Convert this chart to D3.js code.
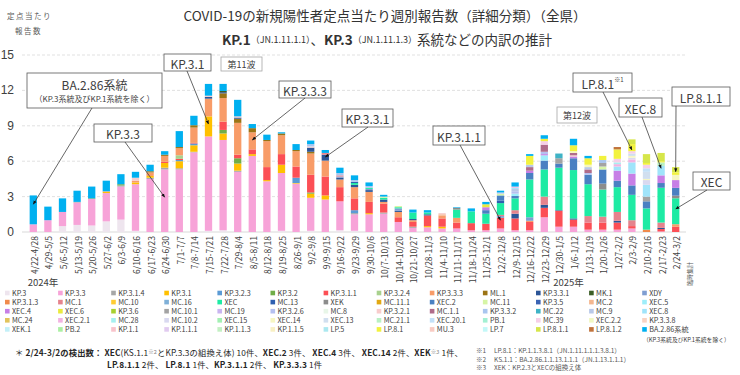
<!DOCTYPE html>
<html>
<head>
<meta charset="utf-8">
<script src="https://cdn.jsdelivr.net/npm/d3@7"></script>
<style>
  body { margin: 0; background: #fff; }
  svg { display: block; font-family: "Noto Sans CJK JP", "Noto Sans", sans-serif; }
</style>
</head>
<body>
<div id="chart"></div>
<script>
// 1. Data

const weeks = ["4/22-4/28","4/29-5/5","5/6-5/12","5/13-5/19","5/20-5/26","5/27-6/2","6/3-6/9","6/10-6/16","6/17-6/23","6/24-6/30","7/1-7/7","7/8-7/14","7/15-7/21","7/22-7/28","7/29-8/4","8/5-8/11","8/12-8/18","8/19-8/25","8/26-9/1","9/2-9/8","9/9-9/15","9/16-9/22","9/23-9/29","9/30-10/6","10/7-10/13","10/14-10/20","10/21-10/27","10/28-11/3","11/4-11/10","11/11-11/17","11/18-11/24","11/25-12/1","12/2-12/8","12/9-12/15","12/16-12/22","12/23-12/29","12/30-1/5","1/6-1/12","1/13-1/19","1/20-1/26","1/27-2/2","2/3-2/9","2/10-2/16","2/17-2/23","2/24-3/2"]

const seriesNames = [
  "KP.3","KP.3.3","KP.3.1.4","KP.3.1","KP.3.2.3","KP.3.2","KP.3.1.1","KP.3.2.4","KP.3.3.3","ML.1","KP.3.3.1","MK.1","XDY",
  "KP.3.1.3","MC.1","MC.10","MC.16","XEC","MC.13","XEK","MC.11.1","XEC.2","MC.11","KP.3.5","MC.2","XEC.5",
  "XEC.4","XEC.6","KP.3.6","MC.10.1","MC.19","KP.3.2.6","MC.8","KP.3.2.1","MC.1.1","KP.3.3.2","MC.22","MC.9","XEC.8",
  "MC.24","XEC.2.1","MC.28","MC.10.2","XEC.15","XEC.14","XEC.13","MC.21.1","XEC.20.1","PB.1","MC.39","XEC.2.2","KP.3.3.8",
  "XEK.1","PB.2","KP.1.1","KP.1.1.1","KP.1.1.3","KP.1.1.5","LP.5","LP.8.1","MU.3","LP.7","LP.8.1.1","LP.8.1.2","BA.2.86系統"
]

const seriesColors = [
  "#eee5ee","#f7a3d8","#a6a6a6","#ffc000","#5b9bd5","#70ad47","#fc4f55","#a9d18e","#f89c68","#9c7415","#2c5597","#3b5e26","#7f9ed2",
  "#f08a4b","#e5838d","#ffcc33","#7fb0d8","#1eeba4","#2e5fb0","#8c8c8c","#e2a812","#4a80c2","#d6f5a6","#3b63b3","#f4b78f","#9eeefa",
  "#c77fe6","#eaea3e","#a8d030","#a3a3a3","#c9b5f0","#b5c0f0","#e8f6e8","#f8cccc","#b06c8a","#a9c6ef","#3fb3c6","#b9c9e8","#a0e4fa",
  "#e2c45c","#f2b3e2","#a6f0f0","#d9d9f0","#a3f0b3","#f6f6c2","#d1dfef","#b9f0c3","#c3e1f8","#a3f0d3","#f6cfe8","#f1f8c3","#f8d3c3",
  "#c3f0f8","#abf0a3","#f8c3cb","#e1cbf0","#c3f0c3","#f8f0c3","#abe8f0","#f2f23e","#f8cbc3","#c3f8f8","#d6e64a","#c0733c","#00b0f0"
]

const weeklyCounts = [
  {"KP.3.3":0.65,"BA.2.86系統":2.45},
  {"KP.3.3":1.0,"BA.2.86系統":1.15},
  {"KP.3":0.5,"KP.3.3":1.2,"BA.2.86系統":1.15},
  {"KP.3":0.6,"KP.3.3":1.9,"KP.3.1.4":0.05,"BA.2.86系統":0.95},
  {"KP.3":0.55,"KP.3.3":2.25,"KP.3.2":0.05,"BA.2.86系統":1.0},
  {"KP.3":0.9,"KP.3.3":2.4,"KP.3.1":0.1,"KP.3.3.3":0.05,"BA.2.86系統":0.9},
  {"KP.3":1.05,"KP.3.3":2.8,"KP.3.1.4":0.1,"KP.3.2":0.1,"BA.2.86系統":0.85},
  {"KP.3":0.1,"KP.3.3":3.95,"KP.3.1":0.15,"KP.3.3.3":0.15,"KP.3.2.1":0.25,"BA.2.86系統":0.5},
  {"KP.3.3":4.5,"KP.3.1.4":0.1,"KP.3.1":0.15,"KP.3.3.3":0.3,"ML.1":0.1,"BA.2.86系統":0.55},
  {"KP.3.3":5.3,"KP.3.1.4":0.15,"KP.3.1":0.4,"KP.3.1.1":0.1,"KP.3.3.3":0.5,"ML.1":0.1,"BA.2.86系統":0.3},
  {"KP.3.3":5.3,"KP.3.1.4":0.1,"KP.3.1":0.6,"KP.3.2.3":0.1,"KP.3.1.1":0.1,"KP.3.2.4":0.3,"KP.3.3.3":0.6,"ML.1":0.1,"BA.2.86系統":1.35},
  {"KP.3.3":6.75,"KP.3.1.4":0.05,"KP.3.1":0.55,"KP.3.2.3":0.15,"KP.3.1.1":0.05,"KP.3.3.3":1.3,"ML.1":0.2,"BA.2.86系統":0.8},
  {"KP.3":0.1,"KP.3.3":8.0,"KP.3.1":1.7,"KP.3.3.3":1.5,"KP.3.3.1":0.15,"KP.3.2.1":0.1,"BA.2.86系統":1.0},
  {"KP.3":0.15,"KP.3.3":7.65,"KP.3.1":0.55,"KP.3.2":0.3,"KP.3.1.1":0.7,"KP.3.3.3":2.0,"ML.1":0.4,"KP.3.3.1":0.1,"MK.1":0.1,"BA.2.86系統":0.6},
  {"KP.3.3":5.1,"KP.3.1.4":0.1,"KP.3.1":0.6,"KP.3.2":0.45,"KP.3.1.1":0.3,"KP.3.3.3":2.7,"ML.1":0.35,"KP.3.3.1":0.1,"KP.3.2.1":0.1,"BA.2.86系統":1.4},
  {"KP.3.3":6.45,"KP.3.1":0.15,"KP.3.1.1":0.4,"KP.3.3.3":1.45,"ML.1":0.35,"BA.2.86系統":0.35},
  {"KP.3.3":4.3,"KP.3.1":0.1,"KP.3.1.1":1.1,"KP.3.3.3":2.2,"ML.1":0.1,"BA.2.86系統":0.45},
  {"KP.3":0.1,"KP.3.3":4.9,"KP.3.1":0.7,"KP.3.1.1":0.9,"KP.3.3.3":1.6,"ML.1":0.15,"BA.2.86系統":0.1},
  {"KP.3.3":4.1,"KP.3.1":0.05,"KP.3.2.3":0.45,"KP.3.1.1":0.95,"KP.3.3.3":1.3,"ML.1":0.1,"BA.2.86系統":0.5},
  {"KP.3":0.1,"KP.3.3":2.8,"KP.3.1":0.35,"KP.3.2":0.1,"KP.3.1.1":1.5,"KP.3.3.3":1.8,"ML.1":0.15,"KP.3.3.1":0.35,"KP.3.2.1":0.1,"KP.3.3.2":0.2,"BA.2.86系統":0.3},
  {"KP.3.3":2.75,"KP.3.1":0.35,"KP.3.1.1":1.6,"KP.3.3.3":1.35,"KP.3.3.1":0.5,"MC.1":0.15,"BA.2.86系統":0.25},
  {"KP.3":0.15,"KP.3.3":2.45,"KP.3.1.1":1.2,"KP.3.3.3":0.65,"KP.3.3.1":0.15,"XDY":0.1,"MC.1":0.1,"KP.3.3.2":0.2,"BA.2.86系統":0.45},
  {"KP.3":0.1,"KP.3.3":1.4,"KP.3.1.4":0.1,"KP.3.2.3":0.25,"KP.3.1.1":1.0,"KP.3.3.3":0.95,"KP.3.3.1":0.2,"XEC":0.15,"MC.13":0.1,"KP.3.3.2":0.15,"BA.2.86系統":0.4},
  {"KP.3.3":1.5,"KP.3.1":0.1,"KP.3.1.1":0.95,"KP.3.3.3":0.85,"KP.3.3.1":0.15,"XDY":0.1,"XEC":0.1,"KP.3.3.2":0.15,"BA.2.86系統":0.3},
  {"KP.3.3":1.55,"KP.3.1.4":0.1,"KP.3.1.1":0.75,"KP.3.3.3":0.15,"KP.3.3.1":0.2,"XEC":0.15,"MC.11":0.1,"BA.2.86系統":0.15},
  {"KP.3.3":0.85,"KP.3.1.1":0.4,"KP.3.3.3":0.45,"KP.3.3.1":0.1,"XDY":0.2,"XEC":0.1,"MC.11":0.1},
  {"KP.3.3":0.35,"KP.3.1.4":0.1,"KP.3.1.1":0.4,"KP.3.3.3":0.15,"KP.3.3.1":0.1,"XEC":0.55,"BA.2.86系統":0.25},
  {"KP.3.3":0.4,"KP.3.1":0.1,"KP.3.1.1":0.9,"KP.3.3.1":0.1,"XEC":0.15,"BA.2.86系統":0.2},
  {"KP.3.3":0.3,"KP.3.1":0.15,"KP.3.1.1":0.7,"KP.3.3.3":0.25,"MC.2":0.1,"KP.3.2.1":0.1},
  {"KP.3.3":0.3,"KP.3.1.1":0.5,"KP.3.3.3":0.4,"XEC":0.7,"XEK":0.15,"BA.2.86系統":0.05},
  {"KP.3.3":0.15,"KP.3.1.1":0.6,"XEC":1.0,"BA.2.86系統":0.25},
  {"KP.3.3":0.15,"KP.3.1.1":0.55,"XEC":0.85,"XEC.2":0.3,"XEC.4":0.25,"XEC.6":0.25,"BA.2.86系統":0.2},
  {"KP.3.3":0.3,"KP.3.1.1":0.9,"XDY":0.15,"MC.1":0.1,"XEC":1.0,"MC.13":0.2,"XEC.2":0.45,"MC.11":0.15,"KP.3.2.6":0.1,"BA.2.86系統":0.15},
  {"KP.3.3":0.15,"KP.3.1.1":1.0,"KP.3.3.1":0.4,"MC.1":0.3,"XEC":1.0,"XEC.2":0.2,"XEC.5":0.2,"KP.3.2.6":0.2,"MC.9":0.2,"XEC.8":0.1,"XEC.2.1":0.1,"BA.2.86系統":0.35},
  {"KP.3.3":0.15,"KP.3.1.1":0.7,"KP.3.3.3":0.1,"XDY":0.3,"XEC":3.2,"XEC.2":0.55,"XEC.4":0.2,"MC.1.1":0.3,"MC.9":0.2,"LP.8.1":0.75,"BA.2.86系統":0.15},
  {"KP.3.3":1.25,"KP.3.1.1":0.8,"KP.3.3.1":0.25,"MC.1":0.7,"XEC":2.3,"XEC.2":0.75,"XEC.5":0.45,"XEC.4":0.1,"KP.3.2.6":0.2,"MC.1.1":0.6,"MC.39":0.3,"LP.8.1":0.2,"BA.2.86系統":0.3},
  {"KP.3.3":0.45,"KP.3.1.1":1.35,"KP.3.3.1":0.05,"XEC":3.6,"XEC.2":0.35,"MC.10.1":0.45,"MC.22":0.4},
  {"KP.3.3":0.45,"KP.3.1.1":0.6,"KP.3.3.1":0.1,"XEC":4.1,"XEC.2":1.0,"XEC.4":0.15,"KP.3.2.1":0.1,"MC.1.1":0.2,"XEC.14":0.15,"LP.8.1":0.5,"BA.2.86系統":0.55},
  {"KP.3.3":0.2,"KP.3.1.1":0.6,"MC.1":0.55,"XEC":2.7,"XEC.2":0.8,"KP.3.2.6":0.15,"MC.1.1":0.3,"MC.9":0.2,"XEC.14":0.2,"LP.8.1":0.55,"BA.2.86系統":0.2},
  {"KP.3.3":0.2,"KP.3.1.1":0.6,"MC.1":0.5,"XEC":2.3,"XEK":0.5,"XEC.2":1.2,"MC.11":0.25,"MC.10.1":0.3,"KP.3.3.2":0.25,"LP.8.1":0.35},
  {"KP.3.3":0.2,"KP.3.1.1":0.6,"KP.3.3.1":0.15,"MC.1":0.75,"XEC":2.1,"XEC.2":0.55,"XEC.4":0.85,"XEC.8":0.35,"XEC.2.1":0.2,"MC.28":0.15,"MC.39":0.3,"LP.8.1":0.8,"LP.8.1.2":0.2},
  {"KP.3.3":0.3,"KP.3.1.1":0.2,"MC.1":0.5,"XEC":2.15,"XEC.2":0.8,"XEC.4":1.0,"XEC.8":0.95,"XEC.2.1":0.25,"MC.10.2":0.15,"XEC.14":0.15,"XEC.13":0.2,"MC.39":0.2,"LP.8.1":0.6,"LP.8.1.1":0.4},
  {"KP.3.1.3":0.2,"XEC":1.8,"XEC.2":0.6,"MC.10.1":0.4,"XEC.8":1.0,"MC.10.2":0.4,"XEC.14":0.1,"XEC.13":0.6,"XEC.20.1":0.3,"MC.39":0.3,"LP.8.1":0.15,"LP.8.1.1":0.75},
  {"KP.3.3":0.05,"KP.3.1.1":0.2,"KP.3.3.1":0.1,"MC.1":0.45,"XEC":2.95,"XEC.2":0.4,"XEC.4":0.65,"XEC.8":0.8,"MC.21.1":0.3,"LP.8.1":0.1,"LP.8.1.1":0.7},
  {"KP.3.1.1":0.44,"KP.3.3.3":0.22,"XEC":2.2,"XEK":0.22,"XEC.2":0.66,"XEC.4":0.66,"XEC.14":0.44,"LP.8.1":0.22,"LP.8.1.1":0.44}
]

const yTicks = [0, 3, 6, 9, 12, 15]

// callouts: label, target week and value the arrow points at
const callouts = [
  {text: "BA.2.86系統", sub: "（KP.3系統及びKP.1系統を除く）", box: [27, 73, 135, 35], from: [92, 108], week: "4/22-4/28", value: 2.35},
  {text: "KP.3.3", box: [94, 124, 58, 18], from: [125, 142], week: "6/24-6/30", value: 2.95},
  {text: "KP.3.1", box: [164, 54, 47, 17], from: [187, 71], week: "7/15-7/21", value: 9.15},
  {text: "第11波", box: [221, 57, 41, 14], small: true},
  {text: "KP.3.3.3", box: [279, 81, 52, 17], from: [305, 98], week: "8/5-8/11", value: 7.8},
  {text: "KP.3.3.1", box: [342, 109, 51, 18], from: [368, 127], week: "9/9-9/15", value: 6.35},
  {text: "KP.3.1.1", box: [433, 126, 52, 19], from: [460, 145], week: "12/2-12/8", value: 1.0},
  {text: "第12波", box: [557, 107, 40, 16], small: true},
  {text: "LP.8.1", sup: "※1", box: [573, 73, 59, 19], from: [603, 92], week: "2/3-2/9", value: 6.95},
  {text: "XEC.8", box: [619, 98, 43, 19], from: [642, 117], week: "2/17-2/23", value: 5.4},
  {text: "LP.8.1.1", box: [672, 87, 58, 19], from: [676, 106], week: "2/24-3/2", value: 5.1},
  {text: "XEC", box: [693, 172, 37, 18], from: [707, 190], week: "2/24-3/2", value: 1.95}
]

function drawChart() {

  // 2. Dimensions

  const width = 740
  const height = 375
  const plot = {left: 26, right: 683, top: 55, bottom: 232}

  const svg = d3.select("#chart")
    .append("svg")
      .attr("width", width)
      .attr("height", height)

  svg.append("defs").append("marker")
      .attr("id", "arrow")
      .attr("viewBox", "0 0 10 10")
      .attr("refX", 9).attr("refY", 5)
      .attr("markerWidth", 5).attr("markerHeight", 5)
      .attr("orient", "auto")
    .append("path")
      .attr("d", "M0,1 L10,5 L0,9 Z")
      .attr("fill", "#111")

  // 3. Scales

  const x = d3.scaleBand()
    .domain(weeks)
    .range([plot.left, plot.right])
    .paddingInner(0.5)
    .paddingOuter(0.25)

  const y = d3.scaleLinear()
    .domain([0, 15])
    .range([plot.bottom, plot.top])

  const table = weeks.map((w, i) => {
    const row = {week: w}
    seriesNames.forEach(n => row[n] = weeklyCounts[i][n] || 0)
    return row
  })

  const stacked = d3.stack().keys(seriesNames)(table)
  const color = d3.scaleOrdinal().domain(seriesNames).range(seriesColors)

  // 4. Titles

  svg.append("text")
      .attr("x", 385).attr("y", 15)
      .attr("text-anchor", "middle")
      .attr("dominant-baseline", "central")
      .attr("font-size", 13.5)
      .attr("fill", "#333")
      .text("COVID-19の新規陽性者定点当たり週別報告数（詳細分類）（全県）")

  const sub = svg.append("text")
      .attr("x", 222).attr("y", 39)
      .attr("dominant-baseline", "central")
      .attr("fill", "#333")
  sub.append("tspan").attr("font-size", 13.5).attr("font-weight", "bold").text("KP.1")
  sub.append("tspan").attr("font-size", 9).text("（JN.1.11.1.1）")
  sub.append("tspan").attr("font-size", 13.5).text("、")
  sub.append("tspan").attr("font-size", 13.5).attr("font-weight", "bold").text("KP.3")
  sub.append("tspan").attr("font-size", 9).text("（JN.1.11.1.3）")
  sub.append("tspan").attr("font-size", 13.5).text("系統などの内訳の推計")

  svg.append("text")
      .attr("x", 7).attr("y", 15)
      .attr("dominant-baseline", "central")
      .attr("font-size", 7.5)
      .attr("letter-spacing", 1.5)
      .attr("fill", "#595959")
      .text("定点当たり")
  svg.append("text")
      .attr("x", 15).attr("y", 30)
      .attr("dominant-baseline", "central")
      .attr("font-size", 7.5)
      .attr("letter-spacing", 1.5)
      .attr("fill", "#595959")
      .text("報告数")

  // 5. Axes and grid

  const grid = svg.append("g")
  grid.selectAll("line")
    .data(yTicks.filter(d => d > 0))
    .join("line")
      .attr("x1", 22).attr("x2", 686)
      .attr("y1", d => y(d)).attr("y2", d => y(d))
      .attr("stroke", "#d9d9d9")
      .attr("stroke-dasharray", "3,2")
      .attr("stroke-width", 0.8)

  grid.append("line")
      .attr("x1", 22).attr("x2", 686)
      .attr("y1", y(0)).attr("y2", y(0))
      .attr("stroke", "#d9d9d9")

  svg.append("g").selectAll("text")
    .data(yTicks)
    .join("text")
      .attr("x", 14)
      .attr("y", d => y(d))
      .attr("text-anchor", "end")
      .attr("dominant-baseline", "central")
      .attr("font-family", "Liberation Sans, sans-serif")
      .attr("font-size", 12)
      .attr("fill", "#404040")
      .text(d => d)

  svg.append("g").selectAll("text")
    .data(weeks)
    .join("text")
      .attr("transform", d => `translate(${x(d) + x.bandwidth() / 2 + 0.5},236) rotate(-90)`)
      .attr("text-anchor", "end")
      .attr("dominant-baseline", "central")
      .attr("font-size", 8.5)
      .attr("fill", "#404040")
      .text(d => d)

  svg.append("text")
      .attr("transform", `translate(689,262) rotate(-90)`)
      .attr("text-anchor", "end")
      .attr("dominant-baseline", "central")
      .attr("font-size", 6)
      .attr("fill", "#595959")
      .text("臨時集計")

  const yearLabels = [{week: "4/22-4/28", text: "2024年", dx: -2}, {week: "12/30-1/5", text: "2025年", dx: -2}]
  svg.append("g").selectAll("text")
    .data(yearLabels)
    .join("text")
      .attr("x", d => x(d.week) + d.dx)
      .attr("y", 282)
      .attr("dominant-baseline", "central")
      .attr("font-size", 9.5)
      .attr("fill", "#404040")
      .text(d => d.text)

  // 6. Bars

  svg.append("g")
    .selectAll("g")
    .data(stacked)
    .join("g")
      .attr("fill", d => color(d.key))
    .selectAll("rect")
    .data(d => d.filter(s => s[1] - s[0] > 0))
    .join("rect")
      .attr("x", d => x(d.data.week))
      .attr("y", d => y(d[1]))
      .attr("width", x.bandwidth())
      .attr("height", d => y(d[0]) - y(d[1]))

  // 7. Callouts

  const notes = svg.append("g")
  callouts.forEach(c => {
    const [bx, by, bw, bh] = c.box
    notes.append("rect")
        .attr("x", bx).attr("y", by)
        .attr("width", bw).attr("height", bh)
        .attr("fill", "#fff")
        .attr("stroke", c.small ? "#a6a6a6" : "#595959")
        .attr("stroke-width", 0.8)
    const t = notes.append("text")
        .attr("x", bx + bw / 2)
        .attr("y", c.sub ? by + 11 : by + bh / 2)
        .attr("text-anchor", "middle")
        .attr("dominant-baseline", "central")
        .attr("font-size", c.small ? 9 : 12)
        .attr("fill", "#404040")
    t.append("tspan").text(c.text)
    if (c.sup) t.append("tspan").attr("font-size", 6).attr("dy", -4).text(c.sup)
    if (c.sub) {
      notes.append("text")
          .attr("x", bx + bw / 2).attr("y", by + 25)
          .attr("text-anchor", "middle")
          .attr("dominant-baseline", "central")
          .attr("font-size", 8)
          .attr("fill", "#404040")
          .text(c.sub)
    }
    if (c.from) {
      notes.append("line")
          .attr("x1", c.from[0]).attr("y1", c.from[1])
          .attr("x2", x(c.week) + x.bandwidth() / 2)
          .attr("y2", y(c.value))
          .attr("stroke", "#404040")
          .attr("stroke-width", 0.8)
          .attr("marker-end", "url(#arrow)")
    }
  })

  // 8. Legend

  const legend = svg.append("g")
  const item = legend.selectAll("g")
    .data(seriesNames)
    .join("g")
      .attr("transform", (d, i) => `translate(${5 + (i % 13) * 53.1},${293 + Math.floor(i / 13) * 9.1})`)
  item.append("rect")
      .attr("x", 0).attr("y", -2.3)
      .attr("width", 4.6).attr("height", 4.6)
      .attr("fill", d => color(d))
  item.append("text")
      .attr("x", 7).attr("y", 0)
      .attr("dominant-baseline", "central")
      .attr("font-size", 7.2)
      .attr("fill", "#404040")
      .text(d => d)

  legend.append("text")
      .attr("x", 643).attr("y", 339)
      .attr("dominant-baseline", "central")
      .attr("font-size", 5.8)
      .attr("fill", "#404040")
      .text("（KP.3系統及びKP.1系統を除く）")

  // 9. Footnotes

  const foot1 = svg.append("text")
      .attr("x", 15).attr("y", 352)
      .attr("dominant-baseline", "central")
      .attr("font-size", 8.3)
      .attr("letter-spacing", 0.12)
      .attr("fill", "#262626")
  const parts1 = [
    ["＊ ", false], ["2/24-3/2の検出数：", true], [" XEC", true], ["(KS.1.1", false], ["※2", "sup"],
    ["とKP.3.3の組換え体) 10件、", false], ["XEC.2", true], [" 3件、 ", false], ["XEC.4", true], [" 3件、 ", false],
    ["XEC.14", true], [" 2件、", false], ["XEK", true], ["※3", "sup"], [" 1件、", false]
  ]
  parts1.forEach(([s, b]) => {
    const ts = foot1.append("tspan").text(s)
    if (b === true) ts.attr("font-weight", "bold")
    if (b === "sup") ts.attr("font-size", 5.5).attr("fill", "#808080")
  })

  const foot2 = svg.append("text")
      .attr("x", 107).attr("y", 364)
      .attr("dominant-baseline", "central")
      .attr("font-size", 8.3)
      .attr("letter-spacing", 0.12)
      .attr("fill", "#262626")
  const parts2 = [["LP.8.1.1", true], [" 2件、 ", false], ["LP.8.1", true], [" 1件、", false],
    ["KP.3.1.1", true], [" 2件、 ", false], ["KP.3.3.3", true], [" 1件", false]]
  parts2.forEach(([s, b]) => {
    const ts = foot2.append("tspan").text(s)
    if (b) ts.attr("font-weight", "bold")
  })

  const refs = [
    ["※1", "LP.8.1：KP.1.1.3.8.1（JN.1.11.1.1.1.3.8.1）"],
    ["※2", "KS.1.1：BA.2.86.1.1.13.1.1.1（JN.1.13.1.1.1）"],
    ["※3", "XEK：KP.2.3とXECの組換え体"]
  ]
  svg.append("g").selectAll("text")
    .data(refs)
    .join("text")
      .attr("x", 476)
      .attr("y", (d, i) => 350 + i * 8.5)
      .attr("dominant-baseline", "central")
      .attr("font-size", 6.5)
      .attr("fill", "#595959")
      .html(d => `<tspan>${d[0]}</tspan><tspan x="494">${d[1]}</tspan>`)
}

drawChart()
</script>
</body>
</html>
